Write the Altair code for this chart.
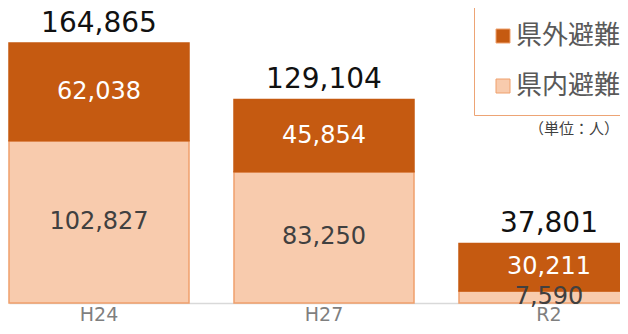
import altair as alt
import pandas as pd

years = ["H24", "H27", "R2"]
inside = [102827, 83250, 7590]      # 県内避難
outside = [62038, 45854, 30211]     # 県外避難
totals = [164865, 129104, 37801]
series = ["県外避難", "県内避難"]
colors = ["#C55A11", "#F8CBAD"]
strokes = ["#C55A11", "#EFA06C"]

rows = []
for y, i, o in zip(years, inside, outside):
    rows.append({"year": y, "type": "県内避難", "value": i, "order": 0,
                 "mid": i / 2, "label": f"{i:,}"})
    rows.append({"year": y, "type": "県外避難", "value": o, "order": 1,
                 "mid": i + o / 2, "label": f"{o:,}"})
df = pd.DataFrame(rows)
tot = pd.DataFrame({"year": years, "total": totals,
                    "label": [f"{t:,}" for t in totals]})

FONT = "DejaVu Sans"
xscale = alt.Scale(domain=years, range=[1, 631], paddingInner=0.2, paddingOuter=0)
yscale = alt.Scale(domain=[0, 187057], nice=False, zero=True)

x = alt.X("year:N", scale=xscale, sort=years,
          axis=alt.Axis(title=None, labelAngle=0, ticks=False, domainColor="#D9D9D9",
                        domainWidth=1.5, labelFontSize=19, labelColor="#7F7F7F",
                        labelFont=FONT, labelPadding=2, grid=False))

bars = alt.Chart(df).mark_bar(strokeWidth=1.5).encode(
    x=x,
    y=alt.Y("value:Q", stack="zero", scale=yscale, axis=None),
    color=alt.Color("type:N", scale=alt.Scale(domain=series, range=colors),
                    legend=alt.Legend(title=None, orient="none", legendX=466, legendY=-1,
                                      symbolType="square", symbolSize=196,
                                      symbolStrokeColor="#EFA06C", symbolStrokeWidth=1,
                                      labelFont="Noto Sans CJK JP", labelFontSize=26,
                                      labelColor="#595959", labelOffset=0,
                                      rowPadding=24, padding=16,
                                      strokeColor="#EDA475", fillColor="white",
                                      labelLimit=300)),
    stroke=alt.Stroke("type:N", scale=alt.Scale(domain=series, range=strokes), legend=None),
    order=alt.Order("order:Q"),
)

seg_labels = alt.Chart(df).mark_text(font=FONT, fontSize=24, baseline="middle").encode(
    x=alt.X("year:N", scale=xscale, sort=years),
    y=alt.Y("mid:Q", scale=yscale),
    text="label:N",
    color=alt.Color("type:N", scale=alt.Scale(domain=series, range=["#FFFFFF", "#404040"]),
                    legend=None),
)

tot_labels = alt.Chart(tot).mark_text(font=FONT, fontSize=28, baseline="middle", dy=-19,
                                      color="#111111").encode(
    x=alt.X("year:N", scale=xscale, sort=years),
    y=alt.Y("total:Q", scale=yscale),
    text="label:N",
)

unit = alt.Chart(pd.DataFrame({"t": ["（単位：人）"]})).mark_text(
    font="Noto Sans CJK JP", fontSize=15, color="#404040", align="right", baseline="middle"
).encode(x=alt.value(611), y=alt.value(121), text="t:N")

chart = alt.layer(bars, seg_labels, tot_labels, unit).resolve_scale(color="independent").properties(
    width=612, height=295,
    autosize=alt.AutoSizeParams(type="none"),
    padding={"left": 0, "top": 0, "right": 0, "bottom": 23},
).configure_view(stroke=None)

chart.save("out.html", embed_options={"renderer": "svg", "actions": False})
